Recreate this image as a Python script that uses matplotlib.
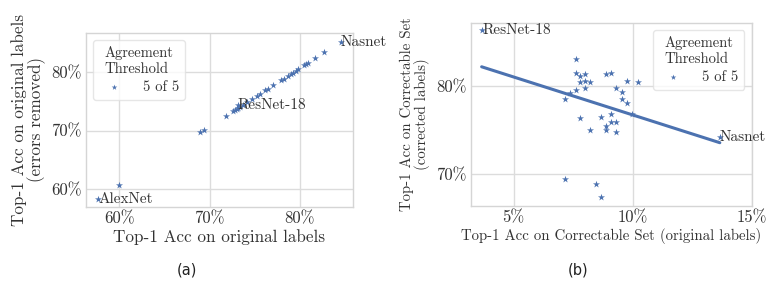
import matplotlib
matplotlib.use("Agg")
import matplotlib.pyplot as plt
import seaborn as sns
from matplotlib.ticker import FuncFormatter, FixedLocator

sns.set_style("whitegrid")
plt.rcParams['font.family'] = ['cmr10', 'DejaVu Serif']
plt.rcParams['mathtext.fontset'] = 'cm'
plt.rcParams['axes.formatter.use_mathtext'] = True

BLUE = "#4c72b0"

# Panel (a): top-1 accuracy on original labels vs errors removed
a_x = [57.65, 60.0, 68.9, 69.4, 71.8, 72.61, 72.80, 72.99, 73.1, 73.17, 73.35, 73.72,
       74.16, 74.65, 75.20, 75.57, 76.12, 76.49, 77.04, 77.97, 78.23, 78.71, 79.00,
       79.26, 79.56, 79.81, 80.48, 80.74, 80.96, 81.66, 82.69, 84.54]
a_y = [58.3, 60.7, 69.8, 70.1, 72.47, 73.32, 73.49, 73.66, 74.3, 73.83, 74.05, 74.34,
       74.90, 75.36, 75.92, 76.21, 76.84, 77.11, 77.74, 78.59, 78.76, 79.32, 79.56,
       79.83, 80.17, 80.46, 81.09, 81.31, 81.48, 82.28, 83.30, 85.10]
a_names = ["AlexNet", "ResNet-18", "Nasnet"]
a_name_x = [57.65, 73.1, 84.54]
a_name_y = [58.3, 74.3, 85.10]

# Panel (b): correctable set, original labels vs corrected labels
b_x = [3.68, 7.61, 7.61, 7.81, 8.02, 7.81, 8.02, 8.23, 8.02, 7.61, 7.37, 7.16,
       8.88, 9.11, 9.76, 10.21, 9.32, 9.54, 9.54, 9.76, 9.97, 7.81, 8.66, 9.11,
       9.11, 9.32, 8.88, 8.88, 8.23, 9.32, 7.16, 8.47, 8.66, 13.66]
b_y = [86.4, 83.03, 81.51, 81.14, 81.33, 80.42, 80.60, 80.42, 79.81, 79.55, 79.17, 78.49,
       81.33, 81.51, 80.60, 80.42, 79.81, 79.36, 78.49, 78.03, 76.78, 76.33, 76.52, 76.78,
       75.87, 75.87, 75.45, 75.00, 75.00, 74.81, 69.40, 68.86, 67.39, 74.2]
b_fit_x = [3.66, 13.66]
b_fit_y = [82.19, 73.56]
b_names = ["ResNet-18", "Nasnet"]
b_name_x = [3.68, 13.66]
b_name_y = [86.4, 74.2]

legend_title = "Agreement\nThreshold"
legend_label = "5 of 5"

fig = plt.figure(figsize=(7.73, 2.83), dpi=100)
axa = fig.add_axes([0.1113, 0.2686, 0.3454, 0.6148])
axb = fig.add_axes([0.6089, 0.2731, 0.3636, 0.6467])

pct = FuncFormatter(lambda v, p: f"{v:.0f}%")
TICK_FS = 12
TXT = "#333333"

def style(ax):
    for s in ax.spines.values():
        s.set_color("#d5d5d5")
        s.set_linewidth(1.0)
    ax.grid(True, color="#dcdcdc", linewidth=1.0)
    ax.tick_params(axis='both', length=0, labelsize=TICK_FS, colors=TXT, pad=3)
    ax.xaxis.set_major_formatter(pct)
    ax.yaxis.set_major_formatter(pct)

def style_legend(lg):
    lg.get_frame().set_edgecolor("#e0e0e0")
    lg.get_title().set_color(TXT)
    for t in lg.get_texts():
        t.set_color(TXT)

# ---- (a)
axa.scatter(a_x, a_y, marker='*', s=28, color=BLUE, linewidths=0, label=legend_label, zorder=3)
for n, x, y in zip(a_names, a_name_x, a_name_y):
    axa.annotate(n, (x, y), ha='left', va='center', fontsize=11, color=TXT,
                 annotation_clip=False, zorder=4)
axa.set_xlim(56.3, 85.9)
axa.set_ylim(57.0, 86.6)
axa.xaxis.set_major_locator(FixedLocator([60, 70, 80]))
axa.yaxis.set_major_locator(FixedLocator([60, 70, 80]))
style(axa)
axa.set_xlabel("Top-1 Acc on original labels", fontsize=12.3, color=TXT, labelpad=2)
axa.set_ylabel("Top-1 Acc on original labels\n(errors removed)", fontsize=12.3,
               color=TXT, labelpad=4, linespacing=1.0)
lga = axa.legend(title=legend_title, loc='upper left', fontsize=10.5, title_fontsize=10.5,
                 frameon=True, handletextpad=1.0, borderpad=0.4, markerscale=0.8,
                 labelspacing=0.3)
style_legend(lga)

# ---- (b)
axb.scatter(b_x, b_y, marker='*', s=28, color=BLUE, linewidths=0, label=legend_label, zorder=3)
axb.plot(b_fit_x, b_fit_y, color=BLUE, linewidth=2.2, zorder=2)
for n, x, y in zip(b_names, b_name_x, b_name_y):
    axb.annotate(n, (x, y), ha='left', va='center', fontsize=11, color=TXT,
                 annotation_clip=False, zorder=4)
axb.set_xlim(3.2, 15.0)
axb.set_ylim(66.4, 87.2)
axb.xaxis.set_major_locator(FixedLocator([5, 10, 15]))
axb.yaxis.set_major_locator(FixedLocator([70, 80]))
style(axb)
axb.set_xlabel("Top-1 Acc on Correctable Set (original labels)", fontsize=10.7, color=TXT, labelpad=2)
axb.set_ylabel("Top-1 Acc on Correctable Set\n(corrected labels)", fontsize=10.7,
               color=TXT, labelpad=4, linespacing=1.0)
lgb = axb.legend(title=legend_title, loc='upper right', fontsize=10.5, title_fontsize=10.5,
                 frameon=True, handletextpad=1.0, borderpad=0.4, markerscale=0.8,
                 labelspacing=0.3)
style_legend(lgb)

fig.text(0.2415, 0.046, "(a)", ha='center', va='center', fontsize=10.5,
         family='DejaVu Sans', color="#222222")
fig.text(0.748, 0.046, "(b)", ha='center', va='center', fontsize=10.5,
         family='DejaVu Sans', color="#222222")

fig.savefig("out.png", dpi=100)
